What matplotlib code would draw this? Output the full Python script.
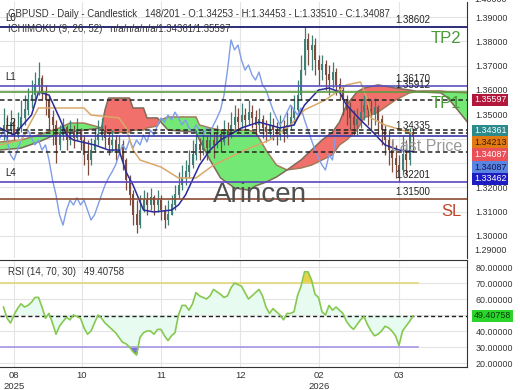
import matplotlib
matplotlib.use('Agg')
import matplotlib.pyplot as plt
import numpy as np
from matplotlib.transforms import blended_transform_factory

plt.rcParams['font.family'] = ['Liberation Sans', 'DejaVu Sans']

# ---------------- data ----------------
opens = [1.3427,1.3456,1.3435,1.3468,1.3415,1.3444,1.3485,1.3518,1.3559,1.3579,
         1.3621,1.3649,1.3592,1.3559,1.3485,1.3456,1.3374,1.3415,1.3444,1.3394,
         1.3427,1.3402,1.3435,1.3394,1.3333,1.3312,1.3353,1.3394,1.3415,1.3435,
         1.3402,1.3374,1.3394,1.3353,1.3374,1.3312,1.3230,1.3168,1.3086,1.3044,
         1.3106,1.3147,1.3127,1.3156,1.3127,1.3147,1.3106,1.3065,1.3086,1.3127,
         1.3168,1.3209,1.3238,1.3263,1.3291,1.3333,1.3374,1.3353,1.3394,1.3361,
         1.3394,1.3374,1.3415,1.3386,1.3435,1.3415,1.3456,1.3485,1.3468,1.3497,
         1.3477,1.3509,1.3485,1.3456,1.3477,1.3444,1.3427,1.3456,1.3435,1.3415,
         1.3444,1.3427,1.3456,1.3485,1.3518,1.3579,1.3682,1.3806,1.3765,1.3785,
         1.3723,1.3682,1.3703,1.3662,1.3641,1.3674,1.3621,1.3600,1.3559,1.3518,
         1.3485,1.3456,1.3477,1.3509,1.3538,1.3518,1.3497,1.3526,1.3477,1.3435,
         1.3394,1.3353,1.3320,1.3291,1.3271,1.3333,1.3312,1.34253]
highs = [1.3526,1.3497,1.3518,1.3485,1.3509,1.3559,1.3579,1.3608,1.3641,1.3674,
         1.3715,1.3662,1.3621,1.3579,1.3518,1.3477,1.3456,1.3485,1.3456,1.3477,
         1.3456,1.3485,1.3444,1.3415,1.3394,1.3402,1.3444,1.3477,1.3485,1.3456,
         1.3427,1.3435,1.3415,1.3415,1.3394,1.3320,1.3250,1.3188,1.3147,1.3168,
         1.3188,1.3180,1.3197,1.3168,1.3188,1.3168,1.3127,1.3147,1.3168,1.3209,
         1.3263,1.3291,1.3312,1.3353,1.3394,1.3435,1.3402,1.3435,1.3415,1.3444,
         1.3427,1.3456,1.3435,1.3477,1.3468,1.3509,1.3538,1.3526,1.3547,1.3526,
         1.3559,1.3538,1.3518,1.3526,1.3497,1.3477,1.3509,1.3485,1.3468,1.3497,
         1.3477,1.3509,1.3538,1.3579,1.3641,1.3744,1.3859,1.3835,1.3826,1.3814,
         1.3744,1.3744,1.3723,1.3703,1.3715,1.3691,1.3649,1.3621,1.3579,1.3551,
         1.3518,1.3526,1.3559,1.3579,1.3567,1.3559,1.3567,1.3538,1.3497,1.3456,
         1.3435,1.3394,1.3374,1.3333,1.3415,1.3394,1.3444,1.34453]
lows = [1.3394,1.3386,1.3415,1.3394,1.3402,1.3427,1.3456,1.3497,1.3526,1.3559,
        1.3579,1.3559,1.3497,1.3435,1.3374,1.3300,1.3353,1.3394,1.3353,1.3374,
        1.3361,1.3394,1.3353,1.3291,1.3250,1.3291,1.3345,1.3374,1.3394,1.3361,
        1.3333,1.3345,1.3312,1.3333,1.3271,1.3188,1.3127,1.3044,1.3012,1.3032,
        1.3098,1.3086,1.3106,1.3086,1.3098,1.3065,1.3032,1.3044,1.3086,1.3106,
        1.3156,1.3188,1.3209,1.3238,1.3279,1.3312,1.3312,1.3333,1.3312,1.3353,
        1.3320,1.3361,1.3345,1.3374,1.3374,1.3402,1.3435,1.3427,1.3444,1.3435,
        1.3456,1.3444,1.3415,1.3427,1.3402,1.3386,1.3402,1.3394,1.3374,1.3394,
        1.3386,1.3402,1.3435,1.3456,1.3509,1.3559,1.3662,1.3703,1.3682,1.3662,
        1.3621,1.3641,1.3600,1.3579,1.3608,1.3579,1.3559,1.3497,1.3456,1.3435,
        1.3415,1.3415,1.3444,1.3477,1.3456,1.3435,1.3456,1.3415,1.3374,1.3333,
        1.3291,1.3263,1.3238,1.3221,1.3250,1.3250,1.3291,1.33510]
closes = [1.3456,1.3435,1.3468,1.3415,1.3444,1.3485,1.3518,1.3559,1.3579,1.3621,
          1.3649,1.3592,1.3559,1.3485,1.3456,1.3374,1.3415,1.3444,1.3394,1.3427,
          1.3402,1.3435,1.3394,1.3333,1.3312,1.3353,1.3394,1.3415,1.3435,1.3402,
          1.3374,1.3394,1.3353,1.3374,1.3312,1.3230,1.3168,1.3086,1.3044,1.3106,
          1.3147,1.3127,1.3156,1.3127,1.3147,1.3106,1.3065,1.3086,1.3127,1.3168,
          1.3209,1.3238,1.3263,1.3291,1.3333,1.3374,1.3353,1.3394,1.3361,1.3394,
          1.3374,1.3415,1.3386,1.3435,1.3415,1.3456,1.3485,1.3468,1.3497,1.3477,
          1.3509,1.3485,1.3456,1.3477,1.3444,1.3427,1.3456,1.3435,1.3415,1.3444,
          1.3427,1.3456,1.3485,1.3518,1.3579,1.3682,1.3806,1.3765,1.3785,1.3723,
          1.3682,1.3703,1.3662,1.3641,1.3674,1.3621,1.3600,1.3559,1.3518,1.3485,
          1.3456,1.3477,1.3509,1.3538,1.3518,1.3497,1.3526,1.3477,1.3435,1.3394,
          1.3353,1.3320,1.3291,1.3271,1.3333,1.3312,1.3427,1.34087]

tenkan_bars = [0,4,9,11,14,17,19,21,27,31,34,36,38,41,44,49,51,53,55,57,60,63,69,74,80,84,87,91,94,97,99,103,106,110,114,118]
tenkan = [1.3444,1.3415,1.3497,1.3592,1.3579,1.3485,1.3415,1.3394,1.3374,1.3353,1.3353,1.3263,1.3209,1.3106,1.3098,
          1.3106,1.3127,1.3168,1.3230,1.3291,1.3353,1.3394,1.3444,1.3468,1.3444,1.3456,1.3538,1.3600,1.3608,1.3592,
          1.3538,1.3477,1.3435,1.3374,1.3353,1.33462]
kijun_bars = [0,6,11,24,26,34,36,38,40,46,51,56,61,70,77,83,87,93,99,103,105,106,110,118]
kijun = [1.3374,1.3394,1.3526,1.3526,1.3497,1.3485,1.3444,1.3353,1.3312,1.3283,1.3238,1.3238,1.3291,1.3353,1.3394,
         1.3456,1.3518,1.3559,1.3621,1.3633,1.3559,1.3485,1.3456,1.34213]
cloud_bars = [0,6,11,17,20,24,29,30,31,37,38,41,42,45,46,48,56,57,60,63,67,71,73,76,79,82,86,89,92,95,97,99,102,104,108,113,117,120,126,128,134]
span_a = [1.3386,1.3394,1.3415,1.3444,1.3464,1.3464,1.3444,1.3427,1.3423,1.3427,1.3435,1.3435,1.3444,1.3452,1.3477,
          1.3489,1.3489,1.3456,1.3444,1.3435,1.3435,1.3435,1.3427,1.3353,1.3291,1.3271,1.3279,1.3291,1.3312,1.3333,
          1.3374,1.3394,1.3435,1.3485,1.3509,1.3559,1.3588,1.3596,1.3596,1.3592,1.3588]
span_b = [1.3353,1.3361,1.3386,1.3423,1.3427,1.3435,1.3444,1.3518,1.3567,1.3567,1.3526,1.3526,1.3485,1.3485,1.3468,
          1.3435,1.3427,1.3394,1.3312,1.3238,1.3197,1.3188,1.3205,1.3221,1.3242,1.3271,1.3312,1.3353,1.3394,1.3427,
          1.3468,1.3538,1.3592,1.3608,1.3621,1.3608,1.3600,1.3592,1.3588,1.3567,1.3460]
chikou_shift = 21

rsi = [55,48,45,50,54,57,55,56,58,61,61,55,48,51,45,38,43,46,48.5,47,
       50,49,48,42,38,40,45,50,48,45,43,41,39,36,33,32,30,27,25,36,
       39,40,40,38,41,41,37,34,37,39,50,56,56,53,57,64,62,61,60,62,
       66,64.5,63,61,62,67,70,69,68,64,60,62,64,66,62,55,51,54,52,50,
       47,51,51,52,62,68,77,77,72,63,61,52,50,56,53,55,53,51,46,43,
       41,44,47,49,44,40,37,38,40,43,42,40,37,31,40,43,46,49.40758]

level_prices = {'L0': 1.38602, 'L1': 1.36170, 'TP1': 1.35912, 'L4': 1.32201, 'SL': 1.31500}
ichi_levels = [1.35597, 1.34361, 1.34213, 1.33462]
last_close = 1.34087
price_ticks = [1.30, 1.31, 1.32, 1.33, 1.34, 1.35, 1.36, 1.37, 1.38, 1.39]
hidden_price_ticks = [1.33, 1.34]          # covered by the value tags in the reference
rsi_ticks = [20, 30, 40, 50, 60, 70, 80]
hidden_rsi_ticks = [50]
month_pos = [4, 23.4, 46, 68.6, 91.1, 114]
month_labels = ['08\n2025', '10', '11', '12', '02\n2026', '03']

# ---------------- figure ----------------
fig = plt.figure(figsize=(5.2, 3.9), dpi=100)
fig.patch.set_facecolor('white')
ax = fig.add_axes([0, 132/390, 467/520, 256/390])
ax2 = fig.add_axes([0, 23/390, 467/520, 107/390])
XMAX = 467/3.5
for a in (ax, ax2):
    a.set_xlim(0, XMAX)
    a.set_facecolor('white')
    for s in ('left', 'top'):
        a.spines[s].set_visible(False)
    a.spines['right'].set_color('#333333')
    a.spines['bottom'].set_color('#333333')
    a.set_xticks(month_pos)
    a.grid(True, color='#e4e4e4', lw=0.8)
    a.set_axisbelow(True)
ax.spines['bottom'].set_visible(False)
ax2.spines['top'].set_visible(True)
ax2.spines['top'].set_color('#333333')
ax.set_ylim(1.29087, 1.39621)
ax2.set_ylim(17.5, 84.4)
ax.tick_params(axis='x', length=0, labelbottom=False)
ax2.tick_params(axis='x', length=0, labelsize=6.8, colors='#333333', pad=3)
ax2.set_xticklabels(month_labels)
for a, ticks, hidden in ((ax, price_ticks, hidden_price_ticks), (ax2, rsi_ticks, hidden_rsi_ticks)):
    a.yaxis.tick_right()
    a.set_yticks(ticks)
    a.set_yticklabels(['' if t in hidden else '{:.5f}'.format(t) for t in ticks])
    a.tick_params(axis='y', length=0, pad=6, labelsize=6.4, colors='#333333')
fig.text(474/520, 1 - 250/390, '1.29000', fontsize=6.4, color='#333333', va='center')
fig.text(474/520, 1 - 0/390, '1.40000', fontsize=6.4, color='#333333', va='center')

x = np.arange(1, len(closes) + 1)
o = np.array(opens); h = np.array(highs); l = np.array(lows); c = np.array(closes)

# cloud
cb = np.array(cloud_bars, float); sa = np.array(span_a); sb = np.array(span_b)
ax.fill_between(cb, sa, sb, where=sa >= sb, interpolate=True, color='#74e874', lw=0, zorder=1)
ax.fill_between(cb, sa, sb, where=sa < sb, interpolate=True, color='#f2706c', lw=0, zorder=1)
ax.plot(cb, sa, color='#a57a5a', lw=1.1, zorder=2)
ax.plot(cb, sb, color='#7d6a58', lw=1.1, zorder=2)

# candles
up = c >= o
col = np.where(up, '#3f7f74', '#7d4c3e')
ax.vlines(x, l, h, colors=col, lw=0.9, zorder=3)
ax.bar(x, np.abs(c - o) + 0.0002, bottom=np.minimum(o, c), width=0.55, color=col, lw=0, zorder=3)

# ichimoku lines
ax.plot(x - chikou_shift, c, color='#7f9de8', lw=1.0, zorder=4)
ax.plot(kijun_bars, kijun, color='#d9a868', lw=1.1, zorder=4)
ax.plot(tenkan_bars, tenkan, color='#2a2a9a', lw=1.1, zorder=4)

# horizontal levels
ax.axhline(level_prices['L0'], color='#1c1c6e', lw=1.3, zorder=5)
ax.axhline(level_prices['L1'], color='#5a50c0', lw=1.2, zorder=5)
ax.axhline(level_prices['TP1'], color='#5c9c40', lw=1.2, zorder=5)
ax.axhline(level_prices['L4'], color='#5c44c4', lw=1.2, zorder=5)
ax.axhline(level_prices['SL'], color='#8b4a30', lw=1.2, zorder=5)
for p in ichi_levels:
    ax.axhline(p, color='#222222', lw=1.1, ls=(0, (3, 2)), zorder=5)
ax.axhline(last_close, color='#3a3aa8', lw=1.2, zorder=5)

bt = blended_transform_factory(ax.transAxes, ax.transData)
for name, p in (('L0', 1.38602), ('L1', 1.36170), ('L4', 1.32201)):
    ax.annotate(name, xy=(0, p), xycoords=bt, xytext=(4, 3), textcoords='offset points',
                fontsize=7, color='#222222', va='bottom', zorder=6)
ax.annotate('L2', xy=(0, 1.34361), xycoords=bt, xytext=(4, 1), textcoords='offset points',
            fontsize=7, color='#222222', va='bottom', zorder=6)
for txt, p in (('1.38602', 1.38602), ('1.36170', 1.36170), ('1.35912', 1.35912),
               ('1.34335', 1.34213), ('1.32201', 1.32201), ('1.31500', 1.31500)):
    ax.annotate(txt, xy=(112.9, p), xycoords='data', xytext=(0, 1.5), textcoords='offset points',
                fontsize=7, color='#222222', va='bottom', ha='left', zorder=6, annotation_clip=False)
for txt, p, colr in (('TP2', 1.38602, '#4a9a3a'), ('TP1', 1.35912, '#4a9a3a'), ('SL', 1.31500, '#c0432a')):
    ax.annotate(txt, xy=(1, p), xycoords=bt, xytext=(-4, -3), textcoords='offset points',
                fontsize=12, color=colr, va='top', ha='right', zorder=6)

ax.text(260/3.5, 1.3168, 'Arincen', fontsize=20, color='#505050', ha='center', va='center', zorder=6)
ax.text(462/3.5, 1.3366, 'Last Price', fontsize=11.5, color='#999999', ha='right', va='center', zorder=6)

ax.text(8/467, 1 - 12/256, 'GBPUSD - Daily - Candlestick   148/201 - O:1.34253 - H:1.34453 - L:1.33510 - C:1.34087',
        transform=ax.transAxes, fontsize=6.9, color='#333333', va='center', zorder=7)
ax.text(8/467, 1 - 27/256, 'ICHIMOKU (9, 26, 52)   n/a/n/a/n/a/1.34361/1.35597',
        transform=ax.transAxes, fontsize=6.9, color='#333333', va='center', zorder=7)

# tags
def tag(ypix, txt, bg, fg):
    fig.text(474/520, 1 - ypix/390, txt, fontsize=6.4, color=fg, va='center', ha='left', zorder=10,
             bbox=dict(boxstyle='square,pad=0.18', fc=bg, ec='none'))
tag(100, '1.35597', '#b3173c', 'white')
tag(131, '1.34361', '#2a8a8c', 'white')
tag(142.5, '1.34213', '#e27a12', '#3a1a00')
tag(154.5, '1.34087', '#ea5058', 'white')
tag(167, '1.34087', '#5a84e2', '#141450')
tag(179, '1.33462', '#1c1cc2', 'white')
tag(316, '49.40758', '#2ad42a', '#0a3a0a')

# RSI
rx = np.arange(1, len(rsi) + 1)
r = np.array(rsi, float)
ax2.fill_between(rx, r, 50, color='#e8fbf1', lw=0, zorder=1)
ax2.fill_between(rx, r, 70, where=r > 70, interpolate=True, color='#e6d44a', lw=0, zorder=2)
ax2.fill_between(rx, r, 30, where=r < 30, interpolate=True, color='#7a70e0', lw=0, zorder=2)
ax2.plot([0, 418/3.5], [70, 70], color='#e4d67a', lw=1.2, zorder=3)
ax2.plot([0, 418/3.5], [30, 30], color='#a898e4', lw=1.2, zorder=3)
ax2.axhline(rsi[-1], color='#222222', lw=1.0, ls=(0, (3, 2)), zorder=3)
ax2.plot(rx, r, color='#86c850', lw=1.2, zorder=4)
ax2.text(8/467, 1 - 12/107, 'RSI (14, 70, 30)   49.40758', transform=ax2.transAxes,
         fontsize=6.9, color='#333333', va='center', zorder=7)

fig.savefig('out.png', dpi=100)
